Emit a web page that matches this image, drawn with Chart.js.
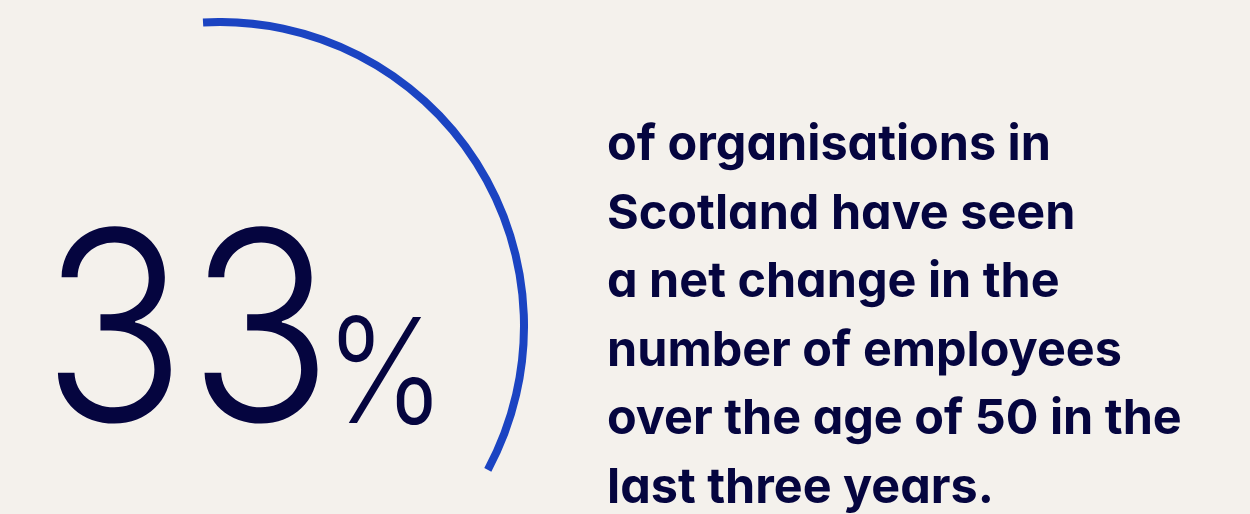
<!DOCTYPE html>
<html>
<head>
<meta charset="utf-8">
<script src="https://cdn.jsdelivr.net/npm/chart.js@4.4.1/dist/chart.umd.min.js"></script>
<style>
  html, body { margin: 0; padding: 0; width: 1250px; height: 514px; overflow: hidden; background: #F4F1EC; }
  #wrap { position: absolute; left: -88px; top: 18px; width: 616px; height: 616px; }
  #c { display: block; width: 616px; height: 616px; }
  .big { position: absolute; color: #05053F; font-family: Inter, "Noto Sans", sans-serif; white-space: nowrap;
         font-weight: 300; transform-origin: 0 0; }
  #num { left: 42px; top: 193px; font-size: 264px; line-height: 264px; letter-spacing: 3px; transform: scaleX(0.9); }
  #pct { left: 325px; top: 297px; font-size: 146px; line-height: 146px; transform: scaleX(0.88); }
  #desc { position: absolute; left: 607px; top: 109px; color: #05053F; font-family: Inter, "Noto Sans", sans-serif;
          font-weight: 700; font-size: 48.5px; line-height: 68.5px; white-space: nowrap; font-feature-settings: "cv11" 1; }
</style>
</head>
<body>
<div id="wrap"><canvas id="c" width="616" height="616"></canvas></div>
<div id="num" class="big"></div>
<div id="pct" class="big">%</div>
<div id="desc"></div>
<script>
const categories = ["Net change in employees over 50", "No net change"];
const values = [33, 67];
const descriptionLines = [
  "of organisations in",
  "Scotland have seen",
  "a net change in the",
  "number of employees",
  "over the age of 50 in the",
  "last three years."
];

document.getElementById('num').textContent = String(values[0]);
document.getElementById('desc').innerHTML = descriptionLines.map(l => '<div>' + l + '</div>').join('');

new Chart(document.getElementById('c'), {
  type: 'doughnut',
  data: {
    labels: categories,
    datasets: [{
      data: values,
      backgroundColor: ['#1B44C2', 'rgba(0,0,0,0)'],
      borderWidth: 0,
      hoverOffset: 0
    }]
  },
  options: {
    responsive: false,
    maintainAspectRatio: false,
    animation: false,
    rotation: -3.2,
    circumference: 368,
    radius: 308,
    cutout: 300,
    layout: { padding: 0 },
    plugins: { legend: { display: false }, tooltip: { enabled: false } },
    events: []
  }
});
</script>
</body>
</html>
